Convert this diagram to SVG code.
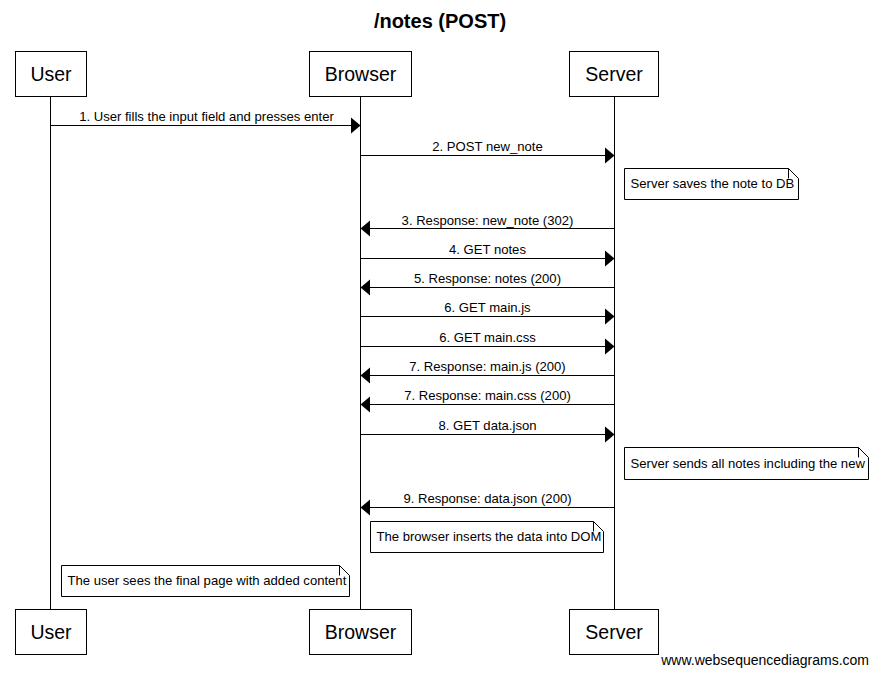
<svg xmlns="http://www.w3.org/2000/svg" width="879" height="679" viewBox="0 0 879 679">
<defs>
<style>
text{font-family:"Liberation Sans",Arial,sans-serif;fill:#000}
.title{font-size:20px;font-weight:bold;text-anchor:middle}
.part{font-size:19.5px;text-anchor:middle}
.msg{font-size:13.1px;text-anchor:middle}
.note{font-size:13.1px}
.foot{font-size:14px;text-anchor:end}
.box{fill:#fff;stroke:#000;stroke-width:1}
.life{stroke:#000;stroke-width:1}
.conn line{stroke:#000;stroke-width:1}
.conn polygon{fill:#000}
.nb{fill:#fff;stroke:#000;stroke-width:1}
.fold{fill:none;stroke:#000;stroke-width:1}
</style>
</defs>
<rect width="879" height="679" fill="#fff"/>
<text class="title" x="440" y="28">/notes (POST)</text>

<g id="lifelines">
<line class="life" x1="50.5" y1="96.5" x2="50.5" y2="609.5"/>
<line class="life" x1="360.5" y1="96.5" x2="360.5" y2="609.5"/>
<line class="life" x1="614.5" y1="96.5" x2="614.5" y2="609.5"/>
</g>

<g id="user-top"><rect class="box" x="15.5" y="51.5" width="71" height="45"/><text class="part" x="51" y="81">User</text></g>
<g id="browser-top"><rect class="box" x="309.5" y="51.5" width="102" height="45"/><text class="part" x="360.5" y="81">Browser</text></g>
<g id="server-top"><rect class="box" x="569.5" y="51.5" width="89" height="45"/><text class="part" x="614" y="81">Server</text></g>

<g id="user-bottom"><rect class="box" x="15.5" y="609.5" width="71" height="45"/><text class="part" x="51" y="639">User</text></g>
<g id="browser-bottom"><rect class="box" x="309.5" y="609.5" width="102" height="45"/><text class="part" x="360.5" y="639">Browser</text></g>
<g id="server-bottom"><rect class="box" x="569.5" y="609.5" width="89" height="45"/><text class="part" x="614" y="639">Server</text></g>

<g id="connectors" class="conn">
<line x1="50.5" y1="125.5" x2="351" y2="125.5"/><polygon points="351,117.5 360.5,125.5 351,133.5"/>
<line x1="360.5" y1="155.5" x2="605" y2="155.5"/><polygon points="605,147.5 614.5,155.5 605,163.5"/>
<line x1="370" y1="228.5" x2="614.5" y2="228.5"/><polygon points="370,220.5 360.5,228.5 370,236.5"/>
<line x1="360.5" y1="258.5" x2="605" y2="258.5"/><polygon points="605,250.5 614.5,258.5 605,266.5"/>
<line x1="370" y1="287.5" x2="614.5" y2="287.5"/><polygon points="370,279.5 360.5,287.5 370,295.5"/>
<line x1="360.5" y1="316.5" x2="605" y2="316.5"/><polygon points="605,308.5 614.5,316.5 605,324.5"/>
<line x1="360.5" y1="346.5" x2="605" y2="346.5"/><polygon points="605,338.5 614.5,346.5 605,354.5"/>
<line x1="370" y1="375.5" x2="614.5" y2="375.5"/><polygon points="370,367.5 360.5,375.5 370,383.5"/>
<line x1="370" y1="404.5" x2="614.5" y2="404.5"/><polygon points="370,396.5 360.5,404.5 370,412.5"/>
<line x1="360.5" y1="434.5" x2="605" y2="434.5"/><polygon points="605,426.5 614.5,434.5 605,442.5"/>
<line x1="370" y1="507.5" x2="614.5" y2="507.5"/><polygon points="370,499.5 360.5,507.5 370,515.5"/>
<text class="msg" x="206.5" y="121">1. User fills the input field and presses enter</text>
<text class="msg" x="487.5" y="151">2. POST new_note</text>
<text class="msg" x="487.5" y="224.5">3. Response: new_note (302)</text>
<text class="msg" x="487.5" y="254">4. GET notes</text>
<text class="msg" x="487.5" y="283">5. Response: notes (200)</text>
<text class="msg" x="487.5" y="312">6. GET main.js</text>
<text class="msg" x="487.5" y="342">6. GET main.css</text>
<text class="msg" x="487.5" y="371">7. Response: main.js (200)</text>
<text class="msg" x="487.5" y="400">7. Response: main.css (200)</text>
<text class="msg" x="487.5" y="430">8. GET data.json</text>
<text class="msg" x="487.5" y="503">9. Response: data.json (200)</text>
</g>

<g id="note-saves">
<path class="nb" d="M624.5,168.5 H788.5 L798.5,178.5 V199.5 H624.5 Z"/>
<path class="fold" d="M788.5,168.5 V178.5"/>
<text class="note" x="630.5" y="188">Server saves the note to DB</text>
</g>
<g id="note-sends">
<path class="nb" d="M624.5,447.5 H858.5 L868.5,457.5 V479.5 H624.5 Z"/>
<path class="fold" d="M858.5,447.5 V457.5"/>
<text class="note" x="630.5" y="467.5">Server sends all notes including the new</text>
</g>
<g id="note-inserts">
<path class="nb" d="M370.5,521.5 H593.5 L603.5,531.5 V552.5 H370.5 Z"/>
<path class="fold" d="M593.5,521.5 V531.5"/>
<text class="note" x="376.5" y="540.5">The browser inserts the data into DOM</text>
</g>
<g id="note-user">
<path class="nb" d="M61.5,565.5 H339.5 L349.5,575.5 V596.5 H61.5 Z"/>
<path class="fold" d="M339.5,565.5 V575.5"/>
<text class="note" x="67.5" y="585">The user sees the final page with added content</text>
</g>

<text class="foot" x="869" y="665">www.websequencediagrams.com</text>
</svg>
